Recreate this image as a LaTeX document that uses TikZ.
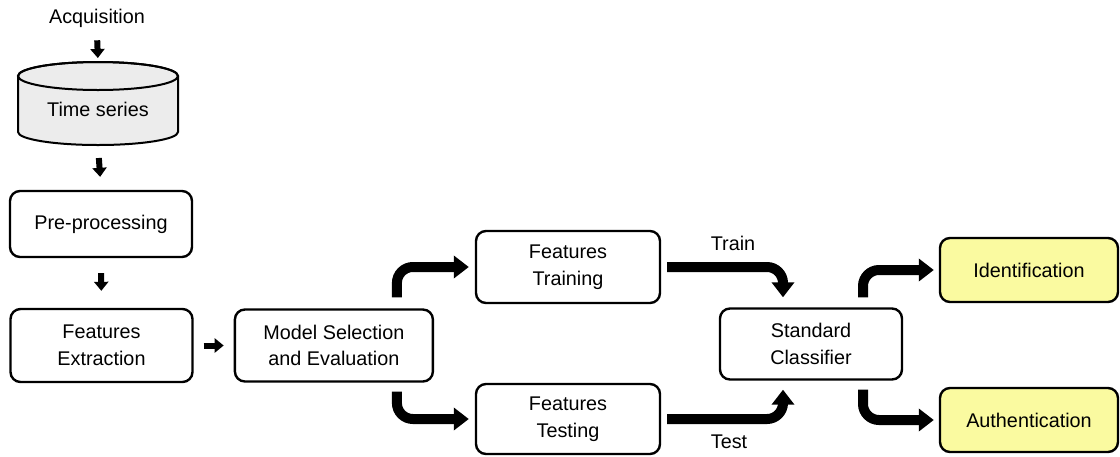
\documentclass[tikz,border=0pt]{standalone}
\usepackage{fontspec}
\setmainfont{Liberation Sans}
\usepackage{xcolor}
\usetikzlibrary{arrows.meta,positioning,calc}
\definecolor{outyellow}{RGB}{250,250,160}
\definecolor{cylgray}{RGB}{236,236,236}

\begin{document}
\begin{tikzpicture}[
    x=0.5pt, y=-0.5pt,
    font=\fontsize{9.9}{13.4}\selectfont,
    box/.style={rectangle, draw, line width=1.2pt, rounded corners=5pt, align=center, minimum width=91pt, minimum height=36pt},
    outbox/.style={box, fill=outyellow, minimum width=89pt, minimum height=32pt},
    smallarrow/.style={-{Triangle[length=4.5pt,width=7pt]}, line width=3pt},
    bigarrow/.style={-{Triangle[length=7.5pt,width=11pt]}, line width=5pt, rounded corners=8pt}
]
    \useasboundingbox (0,0) rectangle (1120,456);

    % Acquisition and storage
    \node (acq) at (97,18) {Acquisition};
    \draw[fill=cylgray, line width=1pt] (18,76) -- (18,132)
        arc[start angle=180, end angle=360, x radius=40pt, y radius=6.5pt] -- (178,76)
        arc[start angle=0, end angle=180, x radius=40pt, y radius=7pt] -- cycle;
    \draw[line width=1pt] (98,76) ellipse[x radius=40pt, y radius=7pt];
    \node (ts) at (98,109) {Time series};
    \coordinate (tstop) at (98,62);
    \coordinate (tsbot) at (98,145);

    % Left column
    \node[box, minimum height=33pt] (pre) at (101,224) {Pre-processing};
    \node[box, minimum height=36.5pt] (fe) at (101.5,345.5) {Features\\Extraction};
    \node[box, right=20pt of fe, minimum width=99pt] (msel) {Model Selection\\and Evaluation};

    % Feature sets
    \node[box, minimum width=92pt] (train) at (568,267) {Features\\Training};
    \node[box, minimum width=92pt, minimum height=35pt] (test) at (568,419) {Features\\Testing};
    \node[box, minimum height=35.5pt] (cls) at (811,344) {Standard\\Classifier};

    % Outputs
    \node[outbox] (ident) at (1029,270) {Identification};
    \node[outbox] (auth) at (1029,420) {Authentication};

    % Labels
    \node (trl) at (733,243) {Train};
    \node (tel) at (729,442) {Test};

    % Small arrows
    \draw[smallarrow, shorten <=3pt, shorten >=2pt] (acq.south) -- (tstop);
    \draw[smallarrow, shorten <=6.5pt, shorten >=6.5pt] (tsbot) -- (pre.north);
    \draw[smallarrow, shorten <=7.5pt, shorten >=8.5pt] (pre.south) -- (fe.north);
    \draw[smallarrow, shorten <=5pt, shorten >=5pt] (fe.east) -- (msel.west);

    % Thick arrows
    \draw[bigarrow] ([xshift=31.5pt,yshift=5.5pt]msel.north) |- ([xshift=-3pt]train.west);
    \draw[bigarrow] ([xshift=31.5pt,yshift=-4.5pt]msel.south) |- ([xshift=-3pt]test.west);
    \draw[bigarrow] ([xshift=3pt]train.east) -| ([xshift=-14pt,yshift=5pt]cls.north);
    \draw[bigarrow] ([xshift=3pt]test.east) -| ([xshift=-14pt,yshift=-4.5pt]cls.south);
    \draw[bigarrow] ([xshift=26pt,yshift=5pt]cls.north) |- ([xshift=-2.5pt]ident.west);
    \draw[bigarrow] ([xshift=26pt,yshift=-4.5pt]cls.south) |- ([xshift=-2.5pt]auth.west);

\end{tikzpicture}
\end{document}
